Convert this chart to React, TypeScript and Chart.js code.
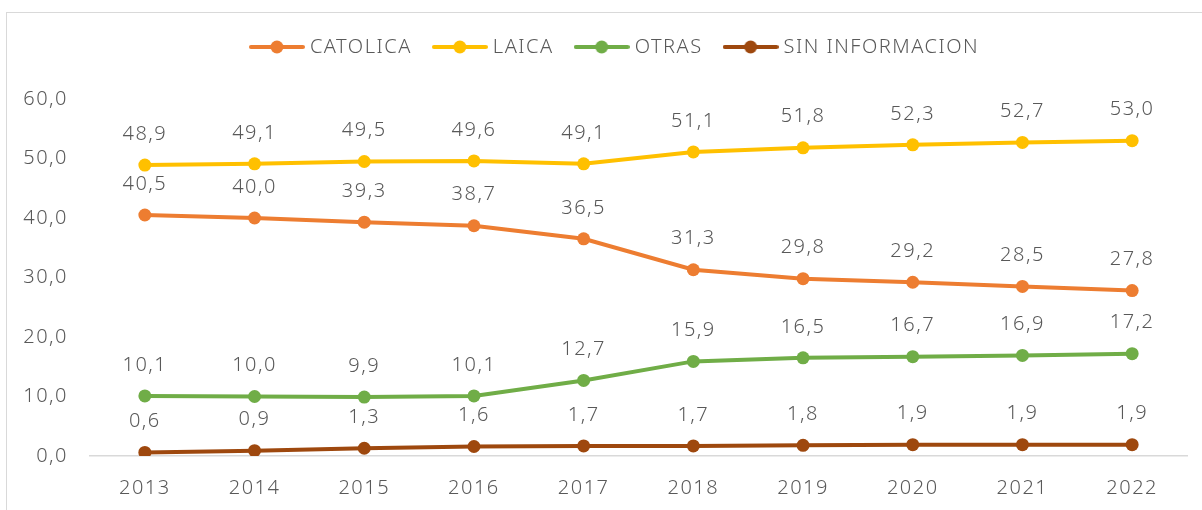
import React, { useEffect, useRef } from "react";
import { Chart, registerables } from "chart.js";

Chart.register(...registerables);

const years = ["2013", "2014", "2015", "2016", "2017", "2018", "2019", "2020", "2021", "2022"];
const catolica = [40.5, 40.0, 39.3, 38.7, 36.5, 31.3, 29.8, 29.2, 28.5, 27.8];
const laica = [48.9, 49.1, 49.5, 49.6, 49.1, 51.1, 51.8, 52.3, 52.7, 53.0];
const otras = [10.1, 10.0, 9.9, 10.1, 12.7, 15.9, 16.5, 16.7, 16.9, 17.2];
const sinInfo = [0.6, 0.9, 1.3, 1.6, 1.7, 1.7, 1.8, 1.9, 1.9, 1.9];
const seriesNames = ["CATOLICA", "LAICA", "OTRAS", "SIN INFORMACION"];
const seriesColors = ["#ED7D31", "#FFC000", "#70AD47", "#9E480E"];

const FONT = "'Noto Sans', sans-serif";
const TEXT = "#595959";
const LEGEND_DX = 23;
const SPACING = "1.5px";

const fmt = (v: number) => v.toFixed(1).replace(".", ",");

function markerImage(color: string) {
  const c = document.createElement("canvas");
  c.width = 56;
  c.height = 14;
  const ctx = c.getContext("2d")!;
  ctx.strokeStyle = color;
  ctx.lineWidth = 4;
  ctx.lineCap = "round";
  ctx.beginPath();
  ctx.moveTo(2, 7);
  ctx.lineTo(54, 7);
  ctx.stroke();
  ctx.fillStyle = color;
  ctx.beginPath();
  ctx.arc(28, 7, 6.5, 0, Math.PI * 2);
  ctx.fill();
  return c;
}

const spacingPlugin = {
  id: "spacing",
  beforeUpdate(chart: any) {
    chart.ctx.letterSpacing = SPACING;
  },
  beforeLayout(chart: any) {
    chart.ctx.letterSpacing = SPACING;
  },
  beforeDraw(chart: any) {
    chart.ctx.letterSpacing = SPACING;
  },
};

const dataLabels = {
  id: "dataLabels",
  afterDatasetsDraw(chart: any) {
    const ctx = chart.ctx;
    ctx.save();
    ctx.letterSpacing = SPACING;
    ctx.font = `300 20px ${FONT}`;
    ctx.fillStyle = TEXT;
    ctx.textAlign = "center";
    ctx.textBaseline = "middle";
    chart.data.datasets.forEach((ds: any, i: number) => {
      const meta = chart.getDatasetMeta(i);
      meta.data.forEach((pt: any, j: number) => {
        ctx.fillText(fmt(ds.data[j]), pt.x, pt.y - 31);
      });
    });
    ctx.restore();
  },
};

const legendTweak = {
  id: "legendTweak",
  afterInit(chart: any) {
    const lg = chart.legend;
    if (!lg) return;
    const origFit = lg.fit;
    lg.fit = function () {
      origFit.call(this);
      this.height = 89;
    };
    const origDraw = lg.draw;
    lg.draw = function () {
      const ctx = this.ctx;
      ctx.save();
      ctx.translate(LEGEND_DX, 2);
      origDraw.call(this);
      ctx.restore();
    };
  },
};

export default function App() {
  const ref = useRef<HTMLCanvasElement | null>(null);
  useEffect(() => {
    if (!ref.current) return;
    const all = [catolica, laica, otras, sinInfo];
    const chart = new Chart(ref.current, {
      type: "line",
      data: {
        labels: years,
        datasets: all.map((d, i) => ({
          label: seriesNames[i],
          data: d,
          borderColor: seriesColors[i],
          backgroundColor: seriesColors[i],
          borderWidth: 4,
          pointRadius: 6.5,
          pointBorderWidth: 0,
          pointBackgroundColor: seriesColors[i],
          pointStyle: "circle",
          tension: 0,
        })) as any,
      },
      options: {
        animation: false,
        responsive: false,
        maintainAspectRatio: false,
        layout: { padding: { top: 10, right: 15, left: 0, bottom: 0 } },
        plugins: {
          legend: {
            position: "top",
            labels: {
              usePointStyle: true,
              pointStyleWidth: 46,
              padding: 25,
              color: TEXT,
              font: { family: FONT, size: 20, weight: "300" as any },
              generateLabels(chart: any) {
                return chart.data.datasets.map((ds: any, i: number) => ({
                  text: ds.label,
                  fillStyle: seriesColors[i],
                  strokeStyle: seriesColors[i],
                  fontColor: TEXT,
                  lineWidth: 0,
                  pointStyle: markerImage(seriesColors[i]),
                  hidden: false,
                  datasetIndex: i,
                }));
              },
            },
          },
          tooltip: { enabled: false },
        },
        scales: {
          x: {
            offset: true,
            grid: { display: false, drawTicks: false },
            border: { display: true, color: "#D9D9D9", width: 1.5 },
            ticks: { color: TEXT, padding: 20, font: { family: FONT, size: 20, weight: "300" as any } },
            afterFit(scale: any) {
              scale.height = 54;
            },
          },
          y: {
            min: 0,
            max: 60,
            grid: { display: false, drawTicks: false },
            border: { display: false },
            ticks: {
              stepSize: 10,
              color: TEXT,
              padding: 22,
              font: { family: FONT, size: 20, weight: "300" as any },
              callback: (v: any) => fmt(Number(v)),
            },
            afterFit(scale: any) {
              scale.width = 90;
            },
          },
        },
      } as any,
      plugins: [spacingPlugin, dataLabels, legendTweak],
    });
    return () => chart.destroy();
  }, []);

  return (
    <div style={{ position: "fixed", left: 0, top: 0, width: 1202, height: 510, overflow: "hidden", background: "#fff" }}>
      <div
        style={{
          position: "absolute",
          left: 6,
          top: 12,
          width: 1220,
          height: 530,
          border: "1.5px solid #D9D9D9",
        }}
      />
      <canvas ref={ref} width={1202} height={510} style={{ position: "absolute", left: 0, top: 0 }} />
    </div>
  );
}
